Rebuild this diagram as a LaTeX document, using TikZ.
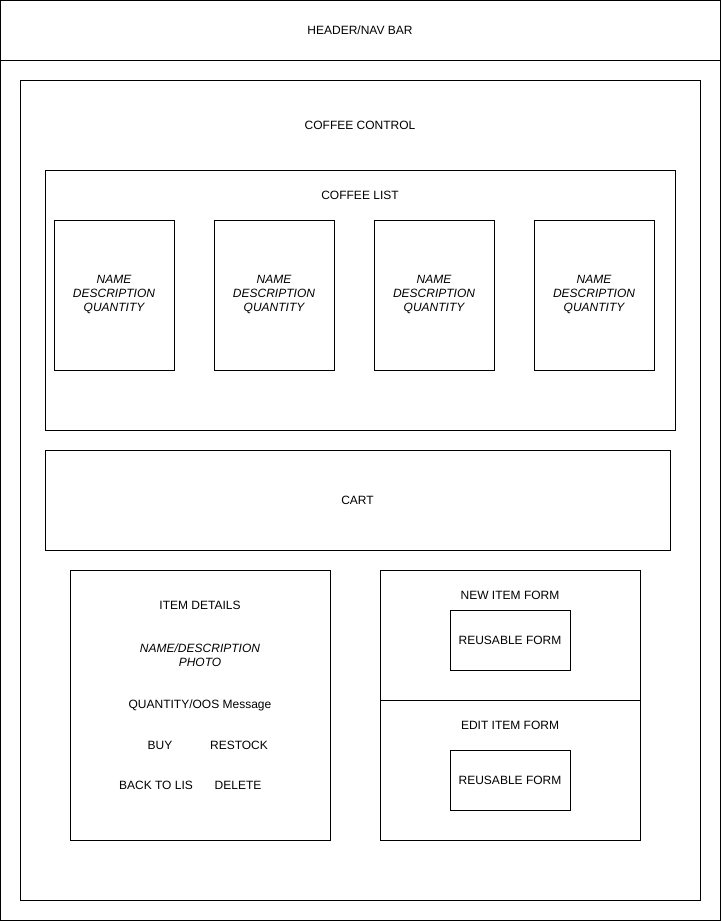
\documentclass[tikz,border=0pt]{standalone}
\usepackage{fontspec}
\setmainfont{Liberation Sans}
\usepackage{tikz}

\tikzset{
    wire/.style={draw=black, line width=1pt},
    lbl/.style={font=\fontsize{12}{14}\selectfont, inner sep=0pt, align=center},
    ilbl/.style={lbl, font=\fontsize{12}{14}\selectfont\itshape}
}

\begin{document}
\begin{tikzpicture}[x=1pt, y=-1pt]
        \useasboundingbox (0,0) rectangle (721,921);

        \draw[wire] (0.5, 0.5) rectangle (720.5, 60.5);
        \node[lbl] (header) at (360, 30) {HEADER/NAV BAR};
        \draw[wire] (0.5, 60.5) rectangle (720.5, 920.5);

        \draw[wire] (20.5, 80.5) rectangle (700.5, 900.5);
        \node[lbl] (control) at (360, 125) {COFFEE CONTROL};

        \draw[wire] (45.5, 170.5) rectangle (675.5, 430.5);
        \node[lbl] (list) at (360, 195) {COFFEE LIST};

        \foreach \x [count=\i] in {54, 214, 374, 534} {
            \draw[wire] (\x+.5, 220.5) rectangle (\x+120.5, 370.5);
            \node[ilbl] (card\i) at (\x+60, 295) {NAME\\DESCRIPTION\\QUANTITY};
        }

        \draw[wire] (45.5, 450.5) rectangle (670.5, 550.5);
        \node[lbl] (cart) at (357.5, 500) {CART};

        \draw[wire] (70.5, 570.5) rectangle (330.5, 840.5);
        \node[lbl] (details) at (200, 605) {ITEM DETAILS};
        \node[ilbl] (namephoto) at (200, 655) {NAME/DESCRIPTION\\PHOTO};
        \node[lbl] (qty) at (200, 705) {QUANTITY/OOS Message};
        \node[lbl] (buy) at (160, 745) {BUY};
        \node[lbl] (restock) at (239, 745) {RESTOCK};
        \node[lbl] (back) at (156, 785) {BACK TO LIS};
        \node[lbl] (delete) at (238, 785) {DELETE};

        \draw[wire] (380.5, 570.5) rectangle (640.5, 700.5);
        \node[lbl] (newform) at (510, 595) {NEW ITEM FORM};
        \draw[wire] (450.5, 610.5) rectangle (570.5, 670.5);
        \node[lbl] (reuse1) at (510, 640) {REUSABLE FORM};

        \draw[wire] (380.5, 700.5) rectangle (640.5, 840.5);
        \node[lbl] (editform) at (510, 725) {EDIT ITEM FORM};
        \draw[wire] (450.5, 750.5) rectangle (570.5, 810.5);
        \node[lbl] (reuse2) at (510, 780) {REUSABLE FORM};
    \end{tikzpicture}
\end{document}
